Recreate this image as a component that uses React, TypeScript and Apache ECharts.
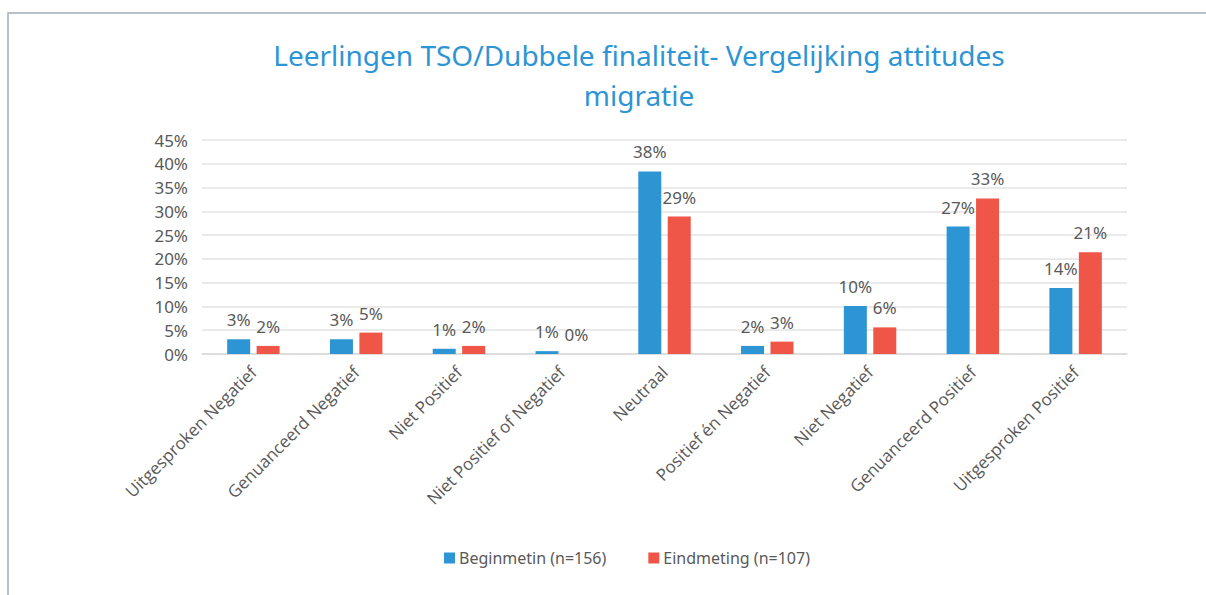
import React, { useEffect, useRef } from "react";
import * as echarts from "echarts";

const categories = [
  "Uitgesproken Negatief",
  "Genuanceerd Negatief",
  "Niet Positief",
  "Niet Positief of Negatief",
  "Neutraal",
  "Positief én Negatief",
  "Niet Negatief",
  "Genuanceerd Positief",
  "Uitgesproken Positief",
];
const beginmeting = [3.1, 3.1, 1.1, 0.6, 38.4, 1.7, 10.1, 26.8, 13.9];
const eindmeting = [1.7, 4.5, 1.7, 0, 28.9, 2.6, 5.6, 32.7, 21.4];
const seriesNames = ["Beginmetin (n=156)", "Eindmeting (n=107)"];
const titleText = "Leerlingen TSO/Dubbele finaliteit- Vergelijking attitudes\nmigratie";

const BLUE = "#2E95D4";
const RED = "#EF5648";
const GRAY = "#595959";
const FONT = "'Noto Sans', sans-serif";

export default function App() {
  const ref = useRef<HTMLDivElement>(null);
  useEffect(() => {
    if (!ref.current) return;
    const chart = echarts.init(ref.current, null, { renderer: "svg" });
    const label = {
      show: true,
      position: "top",
      distance: 11,
      color: GRAY,
      fontSize: 17,
      fontFamily: FONT,
      formatter: (p: any) => Math.round(p.value) + "%",
    };
    chart.setOption({
      animation: false,
      backgroundColor: "#ffffff",
      title: {
        text: titleText,
        left: 634,
        textAlign: "center",
        top: 30,
        textStyle: {
          color: BLUE,
          fontSize: 28,
          fontWeight: "normal",
          fontFamily: FONT,
          lineHeight: 40,
        },
      },
      graphic: [
        {
          type: "rect",
          shape: { x: 8, y: 13, width: 1210, height: 600 },
          style: { fill: "none", stroke: "#A3ACB5", lineWidth: 1.5 },
          silent: true,
        },
      ],
      legend: {
        data: seriesNames,
        left: 439,
        top: 545,
        itemWidth: 11,
        itemHeight: 11,
        itemGap: 42,
        icon: "rect",
        textStyle: { color: GRAY, fontSize: 16, fontFamily: FONT, padding: [0, 0, 0, -1] },
      },
      grid: { left: 202, right: 79, top: 140, bottom: 241, containLabel: false },
      xAxis: {
        type: "category",
        data: categories,
        axisTick: { show: false },
        axisLine: { lineStyle: { color: "#D9D9D9", width: 1.5 } },
        axisLabel: {
          rotate: 45,
          interval: 0,
          color: GRAY,
          fontSize: 17,
          fontFamily: "'Open Sans', sans-serif",
          margin: 15,
        },
      },
      yAxis: {
        type: "value",
        min: 0,
        max: 45,
        interval: 5,
        axisLine: { show: false },
        axisTick: { show: false },
        splitLine: { lineStyle: { color: "#E3E3E3", width: 1.5 } },
        axisLabel: {
          formatter: "{value}%",
          color: GRAY,
          fontSize: 17,
          fontFamily: FONT,
          margin: 14,
        },
      },
      series: [
        {
          name: seriesNames[0],
          type: "bar",
          data: beginmeting,
          itemStyle: { color: BLUE },
          barWidth: 23,
          barGap: "28%",
          label,
        },
        {
          name: seriesNames[1],
          type: "bar",
          data: eindmeting,
          itemStyle: { color: RED },
          barWidth: 23,
          label,
        },
      ],
    });
    return () => chart.dispose();
  }, []);
  return (
    <div
      ref={ref}
      style={{ position: "fixed", left: 0, top: 0, width: 1206, height: 595 }}
    />
  );
}
